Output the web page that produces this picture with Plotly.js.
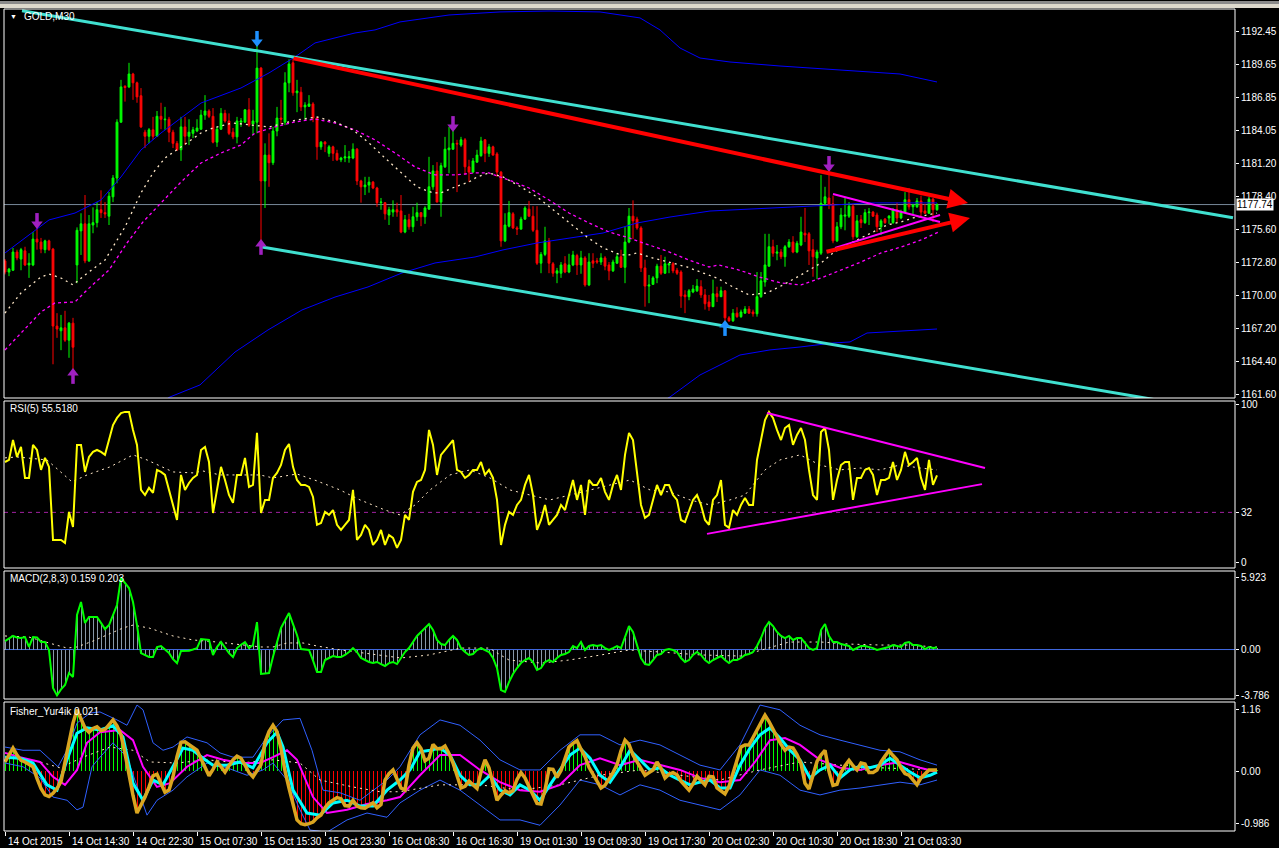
<!DOCTYPE html>
<html><head><meta charset="utf-8">
<script src="https://cdn.plot.ly/plotly-3.0.1.min.js"></script>
<style>html,body{margin:0;padding:0;background:#000;}#chart{width:1279px;height:848px;}</style>
</head><body><div id="chart"></div>
<script>
// ---------- DATA (GOLD M30) ----------
const opens = [1172.94,1172.0,1172.15,1173.7,1173.1,1173.8,1172.6,1172.6,1174.8,1174.55,
1173.9,1174.65,1173.95,1167.4,1167.0,1167.25,1166.2,1167.65,1172.6,1175.5,
1176.1,1172.95,1176.0,1176.2,1177.3,1177.05,1176.75,1178.4,1180.0,1184.75,
1187.8,1187.75,1188.85,1188.1,1187.0,1183.9,1183.55,1184.1,1183.55,1185.25,
1184.95,1185.0,1183.9,1182.95,1182.4,1184.35,1183.55,1183.8,1184.0,1184.15,
1185.35,1185.7,1185.25,1183.05,1184.15,1185.5,1184.85,1183.9,1183.5,1184.75,
1184.75,1185.8,1184.6,1184.75,1189.35,1179.75,1181.95,1181.3,1184.0,1185.1,
1184.75,1188.1,1189.8,1187.25,1187.3,1186.05,1186.1,1186.3,1185.1,1182.65,
1183.05,1182.1,1182.65,1182.1,1181.55,1181.7,1181.7,1181.7,1182.45,1179.75,
1179.25,1179.4,1179.65,1179.15,1177.9,1177.9,1176.85,1177.1,1177.3,1177.2,
1175.4,1176.45,1175.85,1176.7,1177.05,1176.7,1177.35,1179.25,1180.6,1177.95,
1180.95,1182.4,1182.45,1182.95,1182.8,1183.25,1180.95,1180.5,1181.35,1181.9,
1183.25,1182.1,1182.65,1182.05,1180.5,1174.65,1175.9,1176.95,1175.75,1175.65,
1176.5,1177.35,1176.75,1175.55,1172.75,1173.5,1174.65,1172.7,1171.9,1171.9,
1172.7,1172.0,1172.6,1173.4,1172.6,1173.2,1170.9,1172.95,1172.95,1172.85,
1173.2,1172.6,1172.1,1172.75,1173.3,1172.4,1174.55,1176.75,1176.5,1175.75,
1172.35,1170.8,1170.95,1171.5,1172.5,1171.9,1172.6,1172.7,1172.15,1172.0,
1170.05,1169.9,1170.3,1170.4,1170.75,1170.05,1169.45,1169.05,1170.15,1169.9,
1170.4,1168.1,1167.85,1168.5,1168.2,1168.5,1168.85,1168.6,1168.45,1169.9,
1171.15,1172.5,1174.15,1173.6,1173.7,1173.3,1174.15,1174.55,1173.7,1174.3,
1175.3,1175.25,1173.9,1173.2,1173.6,1177.85,1178.3,1177.8,1174.65,1175.85,
1176.75,1176.75,1177.6,1175.0,1176.45,1176.2,1177.05,1177.1,1176.85,1175.85,
1176.5,1176.6,1176.2,1177.3,1176.6,1177.1,1178.15,1177.55,1177.55,1178.05,
1177.2,1177.0,1178.2,1177.3];
const highs = [1173.1,1172.35,1174.05,1173.9,1174.05,1174.15,1173.6,1175.4,1175.9,1174.9,
1174.75,1174.75,1174.05,1168.5,1168.35,1168.7,1167.75,1168.1,1175.8,1177.0,
1178.55,1176.85,1177.5,1177.95,1178.95,1177.95,1178.8,1180.25,1185.0,1188.35,
1187.9,1189.8,1188.95,1188.2,1187.65,1184.1,1184.25,1185.2,1185.7,1186.4,
1186.05,1185.2,1184.1,1183.15,1185.2,1185.2,1185.0,1184.35,1185.0,1185.8,
1187.05,1185.85,1185.95,1184.35,1185.95,1185.8,1185.5,1184.25,1185.2,1185.1,
1185.85,1186.8,1185.8,1191.55,1189.45,1182.95,1183.8,1184.35,1186.05,1186.65,
1189.0,1190.1,1190.3,1188.35,1187.75,1186.45,1187.05,1186.45,1185.2,1183.15,
1183.15,1182.8,1182.75,1182.4,1181.8,1182.8,1182.3,1182.95,1182.55,1179.85,
1180.1,1180.1,1179.75,1179.25,1178.3,1177.95,1177.55,1178.1,1177.9,1178.55,
1176.85,1176.95,1177.55,1177.9,1177.1,1177.6,1181.8,1181.1,1181.35,1181.3,
1183.5,1184.35,1184.1,1183.25,1183.5,1183.4,1181.55,1181.7,1182.4,1183.5,
1183.3,1182.9,1182.75,1182.2,1180.6,1177.0,1178.05,1177.1,1175.9,1176.7,
1177.6,1178.05,1177.6,1177.6,1173.7,1175.85,1174.9,1172.85,1172.35,1172.85,
1173.35,1173.55,1173.8,1173.55,1173.8,1173.35,1173.6,1173.6,1173.2,1173.6,
1173.35,1172.85,1173.05,1173.6,1173.9,1175.85,1177.45,1178.1,1176.7,1175.9,
1173.05,1171.75,1171.65,1172.7,1173.45,1173.3,1172.75,1172.85,1172.35,1172.15,
1170.45,1170.55,1170.9,1171.4,1171.3,1170.55,1170.05,1171.35,1170.75,1170.75,
1170.45,1168.25,1168.85,1169.0,1168.8,1169.1,1169.1,1168.8,1172.0,1172.0,
1175.25,1175.25,1174.75,1174.3,1173.95,1174.3,1174.8,1175.05,1174.65,1176.7,
1177.45,1175.4,1174.8,1173.9,1180.25,1179.25,1180.85,1178.5,1176.25,1177.45,
1178.3,1177.95,1177.8,1176.85,1176.85,1177.35,1177.45,1177.2,1177.05,1176.5,
1176.6,1176.85,1177.45,1177.9,1177.3,1178.8,1179.15,1177.8,1178.3,1178.5,
1177.8,1178.4,1178.3,1177.85];
const lows = [1171.8,1171.65,1172.1,1173.0,1172.15,1172.5,1171.5,1172.5,1173.9,1173.6,
1173.6,1173.8,1164.15,1166.4,1165.35,1166.05,1164.7,1163.4,1171.05,1173.45,
1172.75,1172.85,1175.3,1175.8,1176.6,1176.6,1176.0,1177.95,1179.55,1184.7,
1186.5,1187.65,1186.65,1186.4,1184.25,1182.55,1182.95,1183.25,1183.5,1184.15,
1184.1,1183.05,1182.55,1182.3,1181.45,1182.8,1182.8,1183.4,1183.9,1184.1,
1184.95,1185.1,1182.95,1182.65,1184.1,1184.7,1183.65,1183.3,1182.95,1184.35,
1184.7,1184.35,1183.65,1183.8,1174.45,1177.45,1179.25,1181.1,1183.55,1184.6,
1184.5,1187.3,1187.0,1185.6,1185.7,1184.95,1186.05,1184.75,1181.55,1182.4,
1182.2,1181.8,1181.45,1181.45,1181.35,1181.35,1181.3,1181.6,1179.4,1177.9,
1178.55,1178.75,1179.05,1177.55,1177.3,1176.45,1176.0,1176.7,1176.7,1175.3,
1175.3,1175.6,1175.4,1176.35,1175.9,1176.1,1177.3,1179.0,1177.95,1176.7,
1180.85,1180.4,1182.4,1178.8,1182.65,1180.25,1179.65,1180.4,1181.3,1181.8,
1181.35,1181.8,1181.9,1180.1,1174.15,1174.55,1175.8,1175.65,1175.15,1175.6,
1176.45,1176.7,1175.4,1172.6,1171.9,1173.35,1171.9,1171.6,1171.05,1171.5,
1171.9,1171.9,1172.5,1171.75,1171.85,1170.75,1170.8,1172.35,1172.7,1172.6,
1172.15,1171.3,1172.0,1172.7,1172.35,1171.05,1174.45,1174.8,1175.6,1172.0,
1169.05,1169.35,1170.9,1171.05,1171.75,1171.85,1171.9,1171.9,1171.75,1168.95,
1168.5,1169.6,1170.2,1170.3,1169.8,1168.8,1168.7,1169.05,1169.45,1169.9,
1167.75,1167.75,1167.75,1168.1,1168.1,1168.45,1168.45,1168.2,1168.2,1169.8,
1170.75,1172.45,1173.3,1173.0,1173.1,1172.45,1174.05,1173.6,1173.6,1174.2,
1174.55,1172.6,1171.6,1171.4,1173.45,1177.7,1177.35,1174.45,1174.55,1175.65,
1175.55,1176.6,1174.75,1174.9,1175.75,1176.1,1176.0,1176.7,1175.4,1175.15,
1176.1,1176.1,1176.1,1176.2,1176.5,1177.05,1177.3,1176.85,1177.45,1176.7,
1176.95,1176.95,1176.25,1177.2];
const closes = [1172.0,1172.25,1173.7,1173.2,1173.9,1172.6,1172.75,1174.8,1174.55,1173.95,
1174.65,1173.9,1167.4,1167.15,1167.25,1166.2,1167.65,1165.6,1175.55,1176.1,
1172.95,1176.1,1176.2,1177.3,1177.05,1176.95,1178.45,1180.0,1184.75,1187.75,
1187.7,1188.85,1188.1,1186.9,1184.35,1183.55,1184.1,1183.55,1185.25,1185.0,
1185.0,1183.9,1182.95,1182.4,1184.35,1183.55,1183.9,1184.1,1184.25,1185.35,
1185.7,1185.25,1183.05,1184.15,1185.5,1184.85,1183.8,1183.5,1184.85,1184.85,
1185.8,1184.5,1184.85,1189.35,1179.75,1181.95,1181.3,1184.0,1185.1,1185.0,
1188.1,1189.7,1187.25,1187.4,1186.05,1186.2,1186.3,1185.1,1182.65,1183.05,
1182.9,1182.65,1182.1,1181.55,1181.7,1181.8,1181.8,1182.45,1179.75,1179.25,
1179.4,1179.65,1179.15,1177.9,1177.95,1176.95,1177.3,1177.3,1177.1,1175.4,
1176.45,1175.85,1176.7,1177.05,1176.7,1177.45,1179.25,1180.6,1177.95,1181.05,
1182.45,1182.55,1182.95,1182.9,1183.25,1180.95,1180.5,1181.45,1181.95,1183.15,
1182.1,1182.65,1181.95,1180.5,1174.65,1176.0,1177.05,1175.75,1175.65,1176.5,
1177.45,1176.75,1175.55,1172.75,1173.5,1174.65,1172.75,1171.9,1172.1,1172.6,
1172.0,1172.6,1173.45,1172.6,1173.2,1170.9,1172.85,1172.75,1172.85,1173.2,
1172.5,1172.1,1172.85,1173.3,1172.4,1174.55,1176.75,1176.35,1175.75,1172.35,
1170.8,1170.9,1171.5,1172.5,1171.9,1172.7,1172.7,1172.1,1171.9,1169.95,
1169.9,1170.4,1170.55,1170.8,1170.05,1169.3,1169.05,1170.15,1169.9,1170.4,
1168.1,1167.85,1168.5,1168.2,1168.6,1168.85,1168.5,1168.45,1169.9,1171.25,
1172.6,1174.15,1173.6,1173.7,1173.3,1174.15,1174.55,1173.7,1174.45,1175.4,
1175.15,1173.8,1173.3,1173.7,1177.85,1178.4,1177.7,1174.65,1175.85,1176.85,
1176.85,1177.6,1175.0,1176.35,1176.2,1177.05,1177.1,1176.75,1175.85,1176.35,
1176.2,1176.75,1177.3,1176.6,1177.1,1178.15,1177.55,1177.7,1178.05,1177.1,
1177.0,1178.2,1177.3,1177.74];

// moving averages on price (bar index, price)
const fastMaX = [0,4,9,11,14,17,20,25,30,34,37,40,44,49,52,57,66,73,78,82.5,87,91,95,99,103,107,109,112.5,116,118,121,124.5,129,133,137,141,145.5,149.5,154,156,158,162,166,170.5,174.5,176,178,182,186,190.5,194.5,199,201,204,205.5,207,209.5,213,215.5,218,220.5,224,227,233];
const fastMaY = [1168.51,1170.22,1171.58,1171.83,1171.49,1170.90,1171.75,1173.02,1175.83,1178.73,1180.43,1181.70,1182.64,1183.83,1184.26,1184.68,1184.34,1184.94,1185.19,1184.77,1184.09,1182.98,1181.70,1180.43,1179.24,1178.73,1178.73,1179.24,1179.66,1180.09,1180.43,1180.09,1179.24,1178.39,1177.28,1176.17,1174.98,1174.05,1173.45,1173.45,1173.62,1173.19,1172.85,1172.43,1171.92,1171.75,1171.49,1170.73,1170.05,1170.22,1170.90,1171.75,1172.17,1172.77,1173.19,1173.62,1174.13,1174.73,1175.15,1175.58,1176.00,1176.26,1176.60,1177.02];
const slowMaX = [0,4,9,12.5,17.5,20.5,26,30.5,34.5,39,44,49,54,59,62.5,67.5,72.5,77.5,82.5,87.5,92.5,97.5,102.5,107.5,112.5,117.5,121,126,131,136,141,146,151,156,161,166,171,176,178.5,183.5,188.5,194,199,204,209,214,219,224,229,233.5];
const slowMaY = [1165.37,1166.81,1168.60,1169.37,1169.45,1170.47,1172.17,1174.47,1176.26,1177.88,1179.66,1181.28,1182.13,1182.81,1183.83,1184.34,1184.77,1185.02,1184.68,1184.09,1183.24,1182.13,1180.94,1180.26,1180.26,1180.43,1180.43,1179.83,1179.15,1178.13,1177.02,1176.17,1175.41,1174.90,1174.30,1173.71,1173.02,1172.43,1172.60,1172.17,1171.58,1171.07,1170.90,1171.49,1172.17,1172.85,1173.62,1174.13,1174.73,1175.41];
const bbUpX = [0,11,17.5,24,29,34,39,49,59,66,72.5,77.5,82.5,87.5,92.5,98.75,111,123.75,136,148.75,158.75,163.75,168.75,173.75,181.25,193.75,208.75,223.75,233];
const bbUpY = [1173.62,1176.43,1177.02,1178.13,1180.09,1182.39,1183.83,1186.38,1187.66,1188.94,1190.30,1191.49,1191.92,1192.34,1192.60,1193.28,1193.87,1194.13,1194.21,1194.13,1193.62,1192.60,1191.06,1190.21,1189.87,1189.53,1189.19,1188.85,1188.17];
const bbMidX = [37,41.25,48.75,57.5,65.75,74.25,82.5,90.75,99.25,107.5,117.5,124.5,133,141.25,149.5,158,166.25,176.25,182,190.5,198.75,207,215.5,223.75,233];
const bbMidY = [1160.5,1161.37,1162.39,1165.19,1167.07,1168.77,1169.87,1170.73,1171.92,1172.77,1173.28,1173.88,1174.47,1174.90,1175.32,1176.17,1176.68,1177.19,1177.28,1177.45,1177.53,1177.70,1177.88,1177.88,1177.88];
const bbLowX = [162,166.25,173.75,183.75,191.25,198.75,207,211.25,215.5,219.5,228,233];
const bbLowY = [1160.5,1161.37,1163.24,1164.94,1165.37,1165.62,1165.96,1166.05,1166.81,1166.90,1167.07,1167.15];

// drawn objects (bar index, value)
const chanUpX = [4.25, 307], chanUpY = [1194.24, 1176.62];
const chanLowX = [64.25, 307], chanLowY = [1174.13, 1160.0];
const redUpX = [71.75, 240.75], redUpY = [1190.21, 1177.87];
const redLowX = [205, 241.25], redLowY = [1173.70, 1176.60];
const triUpX = [207, 233.75], triUpY = [1178.64, 1176.26];
const triLowX = [207.5, 233.75], triLowY = [1174.05, 1176.85];
const downArrowX = [8, 63, 112, 206], downArrowY = [1176.26, 1191.75, 1184.51, 1181.11];
const downArrowColor = ['#a020c0', '#1e90ff', '#a020c0', '#a020c0'];
const upArrowX = [17, 64, 180], upArrowY = [1163.24, 1174.22, 1167.32];
const upArrowColor = ['#a020c0', '#a020c0', '#1e90ff'];
const lastPrice = 1177.74;

// price axis ticks
const priceTicks = [1161.60,1164.40,1167.20,1170.00,1172.80,1175.60,1178.40,1181.20,1184.05,1186.85,1189.65,1192.45];

// RSI(5)
const rsi = [63.9,65.2,77.8,67.1,73.4,53.8,53.8,74.7,71.5,58.9,
66.5,60.8,14.6,14.6,14.6,12.7,32.3,22.8,74.7,74.7,
57.6,67.1,70.3,71.5,70.3,68.4,77.8,87.3,91.8,94.9,
95.6,95.6,84.2,74.7,46.2,43.0,47.5,44.3,58.9,57.6,
55.7,46.2,36.7,27.2,55.7,46.2,50.6,53.8,55.7,71.5,
73.4,63.9,31.6,46.2,60.8,52.5,43.0,38.0,55.7,55.7,
66.5,48.1,49.4,82.3,31.6,39.9,39.9,53.8,57.0,62.0,
71.5,75.3,60.8,52.5,49.4,49.4,48.1,41.8,24.1,25.3,
32.3,30.4,33.5,24.1,20.9,24.1,27.2,46.2,14.6,17.7,
24.1,20.9,11.4,14.6,20.9,11.4,17.7,15.8,9.5,14.6,
30.4,27.2,45.0,51.3,52.5,58.9,84.2,74.7,55.7,68.4,
71.5,74.7,77.8,58.9,57.6,53.8,55.7,58.9,58.9,63.9,
55.7,58.9,53.8,39.9,11.4,24.1,32.3,30.4,36.7,39.9,
49.4,55.7,43.0,20.9,27.2,36.7,24.1,27.2,30.4,36.7,
33.5,43.0,52.5,39.9,49.4,30.4,52.5,49.4,49.4,53.8,
45.0,39.9,49.4,55.7,46.2,68.4,82.3,77.8,58.9,36.7,
28.5,30.4,39.9,49.4,43.0,49.4,49.4,43.0,39.9,27.2,
25.9,33.5,39.9,43.0,36.7,27.2,24.1,39.9,43.0,52.5,
24.1,22.2,33.5,30.4,36.7,41.1,36.7,36.7,65.2,77.8,
90.5,95.6,91.8,84.2,77.8,85.4,87.3,74.7,81.0,85.4,
77.8,58.9,43.0,39.9,82.9,85.4,71.5,39.9,52.5,62.0,
63.9,63.9,39.9,53.8,53.8,58.9,60.1,55.7,43.0,52.5,
52.5,53.8,63.9,52.5,58.9,70.3,62.0,63.9,66.5,53.8,
46.2,65.2,49.4,55.5];
const rsiSigX = [0,3,10.5,13.25,16.75,20.5,26.25,32,35.5,42,47,49.5,53.75,63.75,67,73,78,83.75,88.75,95,98.75,102.5,106.25,111.25,116.25,121.25,126.25,131.25,136.25,141.25,146.25,151.25,156.25,161.25,166.25,171.25,176.25,181.25,185,190,193.75,198.75,203.75,208.75,213.75,218.75,223.75,228.75,233];
const rsiSigY = [66.5,67.1,65.2,58.9,51.3,55.7,60.8,68.4,65.2,57.6,57.0,58.2,55.7,55.7,53.8,56.3,51.9,46.2,39.9,33.5,30.4,36.7,46.2,55.7,58.9,53.8,46.2,43.0,39.9,43.0,46.2,49.4,52.5,46.2,44.9,39.9,36.7,39.9,43.0,58.9,65.2,68.4,62.0,58.9,60.1,58.9,62.0,60.1,58.9];
const rsiLevel = 32;
const rsiTriUpX = [190.5, 245], rsiTriUpY = [94.9, 60.1];
const rsiTriLowX = [175.5, 244.25], rsiTriLowY = [18.4, 49.9];

// MACD(2,8,3)
const macd = [0.70,0.9,1.12,1.0,0.95,1.03,0.21,1.03,1.0,0.62,
0.62,-0.04,-3.18,-3.79,-3.3,-2.93,-1.94,-2.27,2.85,3.93,
2.19,2.69,2.69,2.69,2.2,1.69,2.02,2.9,3.68,5.92,
5.5,5.08,3.93,2.02,-0.3,-0.45,-0.62,-0.62,0.21,0.29,
0.0,-0.29,-0.8,-1.12,-0.12,-0.12,-0.1,0.0,0.12,0.87,
0.85,0.79,-0.45,0.2,0.62,0.12,-0.3,-0.62,0.12,0.4,
0.62,0.12,0.37,2.27,-2.02,-1.98,-1.94,-0.6,0.62,1.78,
2.4,3.02,2.1,1.20,0.04,0.0,-0.04,-0.9,-1.86,-1.86,
-0.87,-0.70,-0.54,-0.62,-0.62,-0.45,-0.21,0.12,-0.21,-0.70,
-0.87,-1.03,-1.12,-1.03,-1.20,-1.36,-1.12,-1.03,-1.2,-0.70,
-0.21,0.12,0.62,1.12,1.45,1.78,2.11,1.61,0.79,0.45,
0.37,0.79,1.12,0.79,0.12,-0.21,-0.45,-0.37,-0.04,0.12,
-0.04,-0.21,-0.70,-1.53,-3.35,-3.51,-2.69,-2.02,-1.53,-1.12,
-0.87,-0.70,-1.03,-1.69,-1.53,-1.03,-0.87,-1.03,-0.70,-0.45,
-0.37,-0.21,0.29,0.12,0.62,-0.04,0.29,0.37,0.29,0.37,
0.12,-0.04,0.12,0.29,0.12,0.95,1.94,1.45,0.37,-0.70,
-1.20,-1.28,-0.87,-0.45,-0.37,-0.04,0.04,-0.04,-0.21,-0.70,
-1.03,-0.87,-0.45,-0.21,-0.45,-0.87,-1.12,-0.87,-0.70,-0.54,
-0.87,-1.12,-0.87,-0.87,-0.70,-0.45,-0.37,-0.21,0.29,0.95,
1.78,2.27,1.94,1.45,1.12,0.95,1.12,0.79,0.95,0.95,
0.54,0.12,-0.04,0.12,1.61,2.11,1.12,0.62,0.62,0.45,
0.37,0.29,-0.04,0.12,0.29,0.29,0.21,0.12,-0.04,0.04,
0.12,0.21,0.37,0.29,0.21,0.54,0.62,0.37,0.37,0.29,
0.04,0.21,0.12,0.159];
const macdSigX = [0,6,11,15.5,18,22,26,29.5,32,36,42,47,53,59,64,67,70.5,74.5,78,84,91,99,106,114,121,126,134,141,149,156,164,174,184,189,196,204,211,219,226,233];
const macdSigY = [1.12,1.03,0.54,0.12,0.21,0.70,1.28,1.78,2.02,1.78,1.12,0.79,0.62,0.37,0.21,0.21,0.54,0.54,0.29,-0.04,-0.37,-0.70,-0.45,0.12,0.12,-0.87,-1.12,-0.87,-0.45,-0.04,-0.21,-0.45,-0.54,-0.04,0.62,0.62,0.45,0.37,0.37,0.203];

// Fisher_Yur4ik
const fisher = [0.17,0.30,0.43,0.30,0.20,0.17,0.12,0.08,-0.14,-0.33,
-0.45,-0.48,-0.42,-0.33,-0.20,0.18,0.60,0.90,1.15,0.98,
0.81,0.73,0.80,0.83,0.76,0.78,0.87,0.96,0.85,0.68,
0.33,-0.11,-0.46,-0.79,-0.64,-0.49,-0.30,-0.09,-0.06,-0.23,
-0.40,-0.36,-0.11,0.27,0.54,0.55,0.50,0.45,0.39,0.23,
0.08,-0.09,0.03,0.17,0.08,-0.02,0.10,0.21,0.28,0.24,
0.11,-0.03,-0.11,0.00,0.12,0.54,0.74,0.86,0.74,0.42,
0.00,-0.32,-0.62,-0.92,-0.99,-1.01,-0.99,-0.96,-0.88,-0.83,
-0.69,-0.60,-0.55,-0.50,-0.52,-0.65,-0.66,-0.55,-0.66,-0.69,
-0.70,-0.65,-0.60,-0.69,-0.63,-0.17,-0.05,0.02,-0.16,-0.32,
-0.36,0.11,0.43,0.53,0.42,0.19,0.24,0.50,0.42,0.42,
0.47,0.33,0.15,-0.09,-0.32,-0.29,-0.19,-0.26,-0.33,-0.02,
0.21,0.06,-0.26,-0.55,-0.45,-0.37,-0.41,-0.37,-0.16,-0.03,
-0.13,-0.31,-0.45,-0.61,-0.62,-0.36,0.04,0.03,-0.12,0.01,
0.21,0.45,0.52,0.57,0.41,0.27,0.07,-0.05,-0.19,-0.32,
-0.27,-0.16,-0.03,0.12,0.38,0.58,0.50,0.30,0.17,0.05,
-0.08,-0.03,0.02,0.17,0.05,-0.13,-0.06,-0.03,-0.07,-0.19,
-0.27,-0.36,-0.24,-0.10,-0.18,-0.26,-0.10,-0.11,-0.32,-0.38,
-0.43,-0.29,-0.06,0.21,0.45,0.49,0.49,0.63,0.76,0.92,
1.05,0.93,0.78,0.62,0.50,0.39,0.45,0.43,0.31,0.14,
-0.23,-0.34,-0.07,0.18,0.30,0.39,-0.01,-0.27,-0.25,-0.03,
0.10,0.20,0.10,0.02,0.15,0.13,-0.03,-0.03,0.02,0.17,
0.28,0.38,0.29,0.21,0.06,-0.05,-0.08,-0.18,-0.26,-0.13,
-0.05,0.02,0.02,0.02];
const fCyanX = [0,3.75,7,10.5,13,15.5,18,20.5,23.75,27,29.5,32,34.5,37,39.5,42,44.5,47,49.5,52,55.5,58.75,62,65.5,68,69.5,72,75.5,78.75,82,85.5,88.75,92,95.5,98.75,101.25,103.75,106.25,108.75,111.25,113.75,116.25,118.75,121.25,123.75,126.25,128.75,131.25,133.75,136.25,138.75,141.25,143.75,146.25,148.75,151.25,153.75,156.25,158.75,161.25,163.75,166.25,168.75,171.25,173.75,176.25,178.75,181.25,183.75,186.25,188.75,191.25,193.75,196.25,198.75,201.25,203.75,206.25,208.75,211.25,213.75,216.25,218.75,221.25,223.75,226.25,228.75,231.25,233];
const fCyanY = [0.26,0.24,0.15,-0.26,-0.36,0.21,0.71,0.81,0.77,0.85,0.64,-0.23,-0.55,-0.17,-0.26,0.08,0.43,0.39,0.24,0.11,0.11,0.17,0.06,0.53,0.73,0.45,-0.36,-0.79,-0.83,-0.60,-0.55,-0.66,-0.66,-0.36,-0.17,0.02,0.36,0.39,0.43,0.30,-0.08,-0.26,-0.26,-0.08,-0.36,-0.45,-0.26,-0.36,-0.55,-0.26,0.02,0.30,0.43,0.24,-0.08,-0.21,0.06,0.39,0.21,0.02,0.06,-0.08,-0.17,-0.26,-0.21,-0.17,-0.32,-0.32,0.11,0.43,0.68,0.81,0.62,0.39,0.21,-0.13,0.02,0.11,-0.13,0.02,0.09,0.06,0.11,0.24,0.11,-0.02,-0.13,-0.08,-0.02];
const fMagX = [0,3.75,8.75,12,15,18,20.5,23.75,28.75,32,34.5,38,41.25,45.5,50.5,54.5,58.75,63.75,67,70.5,73,77,80.5,85.5,90.5,95.5,98.75,103.75,108.75,113.75,118.75,123.75,128.75,133.75,138.75,143.75,148.75,153.75,158.75,163.75,168.75,173.75,178.75,183.75,187.5,191.25,195,198.75,203.75,208.75,213.75,218.75,223.75,228.75,233];
const fMagY = [0.34,0.26,0.17,-0.11,-0.26,0.02,0.53,0.73,0.77,0.58,0.08,-0.30,-0.23,0.08,0.30,0.21,0.15,0.15,0.26,0.39,0.21,-0.49,-0.79,-0.73,-0.62,-0.55,-0.49,-0.08,0.30,0.30,0.02,-0.21,-0.36,-0.39,-0.26,0.11,0.24,0.11,0.21,0.11,0.02,-0.13,-0.21,-0.17,0.17,0.58,0.62,0.49,0.21,0.06,0.02,0.11,0.17,0.06,-0.02];
const fBandUpX = [0,4.5,8.75,13.25,15.5,18,21.25,23.75,28,30.5,33,34.5,37,39.5,42,45.5,50.5,53.75,57,62,65.5,69.5,73.75,76.75,79.5,83.75,88.75,92,95.5,98.75,103.75,108.75,113.75,118.75,123.75,128.75,133.75,138.75,143.75,148.75,153.75,158.75,163.75,168.75,173.75,178.75,183.75,188.75,193.75,198.75,203.75,208.75,213.75,218.75,223.75,228.75,233];
const fBandUpY = [0.45,0.39,0.39,0.08,0.39,0.90,1.09,1.11,0.96,0.86,1.24,1.15,0.53,0.39,0.45,0.64,0.53,0.34,0.26,0.26,0.64,0.96,0.99,0.39,-0.36,-0.41,-0.55,-0.36,-0.17,0.08,0.68,0.96,0.86,0.58,0.21,0.02,0.02,0.39,0.68,0.68,0.49,0.58,0.49,0.30,0.11,0.02,0.49,1.24,1.15,0.86,0.68,0.58,0.49,0.39,0.36,0.21,0.11];
const fBandLowX = [0,4.5,8.75,12,15.5,18,19.5,21.75,23.75,27,30.5,33,35.5,38,42,45.5,50.5,55.5,60.5,64.5,67,70.5,73.75,76.25,80.5,85.5,90.5,95.5,98.75,103.75,108.75,113.75,118.75,123.75,128.75,133.75,138.75,143.75,148.75,153.75,158.75,163.75,168.75,173.75,178.75,183.75,188.75,193.75,198.75,203.75,208.75,213.75,218.75,223.75,228.75,233];
const fBandLowY = [0.15,0.08,-0.13,-0.49,-0.55,-0.73,-0.68,0.08,0.26,0.53,0.26,-0.30,-0.83,-0.55,-0.36,-0.11,0.15,0.06,-0.08,0.02,0.15,-0.17,-0.73,-1.11,-1.15,-0.92,-0.79,-0.87,-0.60,-0.36,-0.17,-0.36,-0.64,-0.92,-0.92,-1.02,-0.64,-0.17,-0.26,-0.45,-0.26,-0.36,-0.55,-0.64,-0.73,-0.45,0.02,-0.08,-0.36,-0.45,-0.36,-0.32,-0.26,-0.21,-0.26,-0.17];
const fSigX = [0,7,13.75,19.5,26.25,32,36.25,43,50.5,58.75,67,73.75,78.75,87,93.75,98.75,108.75,118.75,128.75,138.75,148.75,158.75,168.75,178.75,188.75,198.75,208.75,218.75,233];
const fSigY = [0.26,0.21,0.06,0.26,0.45,0.39,0.17,0.15,0.21,0.15,0.21,0.15,-0.17,-0.30,-0.39,-0.39,-0.26,-0.26,-0.36,-0.26,-0.08,0.02,-0.08,-0.17,0.02,0.17,0.11,0.06,0.02];

// time axis labels (every 16 bars)
const timeLabels = ['14 Oct 2015','14 Oct 14:30','14 Oct 22:30','15 Oct 07:30','15 Oct 15:30','15 Oct 23:30','16 Oct 08:30','16 Oct 16:30','19 Oct 01:30','19 Oct 09:30','19 Oct 17:30','20 Oct 02:30','20 Oct 10:30','20 Oct 18:30','21 Oct 03:30'];
const timeLabelBars = [0,16,32,48,64,80,96,112,128,144,160,176,192,208,224];

// ---------- LAYOUT ----------
const FONT = "'Liberation Sans', Arial, sans-serif";
const FS = 10;
const W = 1279, H = 848, ML = 4, MR = 44, MT = 9, MB = 17;
const PH = H - MT - MB;
const dom = (top, bot) => [(H - MB - bot) / PH, (H - MB - top) / PH];
const dMain = dom(9, 398), dRsi = dom(401, 568), dMacd = dom(571, 699), dFis = dom(702, 831);
const py = (y) => (H - MB - y) / PH;
const barIdx = closes.map((_, i) => i);
const priceRange = [1161.28, 1194.38];
const pricePerPx = (priceRange[1] - priceRange[0]) / (398 - 9);

function line(x, y, ya, color, width, dash) {
  return {type: 'scatter', mode: 'lines', x: x, y: y, xaxis: 'x', yaxis: ya,
    line: {color: color, width: width, dash: dash || 'solid'}, hoverinfo: 'skip'};
}

const traces = [];
// Main panel
traces.push(line(bbUpX, bbUpY, 'y', '#0000ff', 1));
traces.push(line(bbMidX, bbMidY, 'y', '#0000ff', 1));
traces.push(line(bbLowX, bbLowY, 'y', '#0000ff', 1));
traces.push(line(slowMaX, slowMaY, 'y', '#ff00ff', 1.3, '3px,3px'));
traces.push(line(fastMaX, fastMaY, 'y', '#ffe8c8', 1.3, '2px,4px'));
traces.push(line(chanUpX, chanUpY, 'y', '#40e0d0', 3));
traces.push(line(chanLowX, chanLowY, 'y', '#40e0d0', 3));
traces.push({type: 'candlestick', x: barIdx, open: opens, high: highs, low: lows, close: closes,
  xaxis: 'x', yaxis: 'y', whiskerwidth: 0, hoverinfo: 'skip',
  increasing: {line: {color: '#00ff00', width: 1}, fillcolor: '#00ff00'},
  decreasing: {line: {color: '#ff0000', width: 1}, fillcolor: '#ff1010'}});
traces.push(line(triUpX, triUpY, 'y', '#ff00ff', 2));
traces.push(line(triLowX, triLowY, 'y', '#ff00ff', 2));
// signal arrows: head + shaft
traces.push({type: 'scatter', mode: 'markers', x: downArrowX, y: downArrowY.map(v => v - 2 * pricePerPx), xaxis: 'x', yaxis: 'y',
  marker: {symbol: 'triangle-down', size: 10, color: downArrowColor, line: {width: 0}}, hoverinfo: 'skip'});
traces.push({type: 'scatter', mode: 'markers', x: downArrowX, y: downArrowY.map(v => v + 4 * pricePerPx), xaxis: 'x', yaxis: 'y',
  marker: {symbol: 'line-ns', size: 7, line: {width: 3.5, color: downArrowColor}}, hoverinfo: 'skip'});
traces.push({type: 'scatter', mode: 'markers', x: upArrowX, y: upArrowY.map(v => v + 2 * pricePerPx), xaxis: 'x', yaxis: 'y',
  marker: {symbol: 'triangle-up', size: 10, color: upArrowColor, line: {width: 0}}, hoverinfo: 'skip'});
traces.push({type: 'scatter', mode: 'markers', x: upArrowX, y: upArrowY.map(v => v - 4 * pricePerPx), xaxis: 'x', yaxis: 'y',
  marker: {symbol: 'line-ns', size: 7, line: {width: 3.5, color: upArrowColor}}, hoverinfo: 'skip'});

// RSI panel
traces.push(line(rsiSigX, rsiSigY, 'y2', '#ffe8c8', 1, '2px,4px'));
traces.push(line(barIdx, rsi, 'y2', '#ffff00', 2));
traces.push(line(rsiTriUpX, rsiTriUpY, 'y2', '#ff00ff', 2));
traces.push(line(rsiTriLowX, rsiTriLowY, 'y2', '#ff00ff', 2));

// MACD panel
traces.push({type: 'bar', x: barIdx, y: macd, xaxis: 'x', yaxis: 'y3', width: 0.25,
  marker: {color: '#8898a8', line: {width: 0}}, hoverinfo: 'skip'});
traces.push(line(macdSigX, macdSigY, 'y3', '#ffe8c8', 1, '2px,4px'));
traces.push(line(barIdx, macd, 'y3', '#00ff00', 2));

// Fisher panel
traces.push({type: 'bar', x: barIdx, y: fisher, xaxis: 'x', yaxis: 'y4', width: 0.25,
  marker: {color: fisher.map(v => v >= 0 ? '#00ff00' : '#ff0000'), line: {width: 0}}, hoverinfo: 'skip'});
traces.push(line(fBandUpX, fBandUpY, 'y4', '#3060ff', 1));
traces.push(line(fBandLowX, fBandLowY, 'y4', '#3060ff', 1));
traces.push(line(fSigX, fSigY, 'y4', '#ffe8c8', 1, '2px,4px'));
traces.push(line(fMagX, fMagY, 'y4', '#ff00ff', 2));
traces.push(line(fCyanX, fCyanY, 'y4', '#00ffff', 3));
traces.push(line(barIdx, fisher, 'y4', '#daa520', 3.5));

const tickFont = {color: '#ffffff', size: FS, family: FONT};
function yax(domain, range, vals, text) {
  return {domain: domain, range: range, side: 'right', anchor: 'x', tickvals: vals, ticktext: text,
    ticks: 'outside', ticklen: 3, tickcolor: '#ffffff', tickwidth: 1, tickfont: tickFont,
    showgrid: false, zeroline: false, showline: false, fixedrange: true};
}

const shapes = [
  {type: 'rect', xref: 'paper', yref: 'paper', x0: -0.01, x1: 1.05, y0: 1 + 1 / PH, y1: 1 + 5 / PH, fillcolor: '#dcd8cc', line: {width: 0}, layer: 'above'},
  {type: 'rect', xref: 'paper', yref: 'paper', x0: -0.01, x1: 1.05, y0: 1 + 5 / PH, y1: 1 + 8 / PH, fillcolor: '#8a8a8a', line: {width: 0}, layer: 'above'},
  {type: 'line', xref: 'paper', yref: 'y', x0: 0, x1: 1, y0: lastPrice, y1: lastPrice, line: {color: '#778899', width: 1}, layer: 'below'},
  {type: 'line', xref: 'paper', yref: 'y2', x0: 0, x1: 1, y0: rsiLevel, y1: rsiLevel, line: {color: '#a020a0', width: 1, dash: '4px,4px'}, layer: 'below'},
  {type: 'line', xref: 'paper', yref: 'y3', x0: 0, x1: 1, y0: 0, y1: 0, line: {color: '#4169e1', width: 1}, layer: 'below'}
];
[dMain, dRsi, dMacd, dFis].forEach(d => shapes.push({type: 'rect', xref: 'paper', yref: 'paper',
  x0: 0, x1: 1, y0: d[0], y1: d[1], line: {color: '#ffffff', width: 1}, fillcolor: 'rgba(0,0,0,0)', layer: 'above'}));

const annotations = [];
const textFont = {color: '#ffffff', size: FS, family: FONT};
annotations.push({xref: 'paper', yref: 'paper', x: 0.003, y: py(17), text: '▼', showarrow: false, xanchor: 'left', yanchor: 'middle', font: {color: '#ffffff', size: 7}});
annotations.push({xref: 'paper', yref: 'paper', x: 0.0146, y: py(17), text: 'GOLD,M30', showarrow: false, xanchor: 'left', yanchor: 'middle', font: textFont});
annotations.push({xref: 'paper', yref: 'paper', x: 0.0033, y: py(408), text: 'RSI(5) 55.5180', showarrow: false, xanchor: 'left', yanchor: 'middle', font: textFont});
annotations.push({xref: 'paper', yref: 'paper', x: 0.0033, y: py(579), text: 'MACD(2,8,3) 0.159 0.203', showarrow: false, xanchor: 'left', yanchor: 'middle', font: textFont});
annotations.push({xref: 'paper', yref: 'paper', x: 0.0033, y: py(711), text: 'Fisher_Yur4ik 0.021', showarrow: false, xanchor: 'left', yanchor: 'middle', font: textFont});
annotations.push({xref: 'paper', yref: 'y', x: 1, xshift: 1, y: lastPrice, text: lastPrice.toFixed(2), showarrow: false,
  xanchor: 'left', yanchor: 'middle', bgcolor: '#ffffff', borderpad: 0, font: {color: '#000000', size: FS, family: FONT}});
timeLabels.forEach((t, k) => annotations.push({xref: 'x', yref: 'paper', x: timeLabelBars[k], xshift: 1, y: py(841),
  text: t, showarrow: false, xanchor: 'left', yanchor: 'middle', font: textFont}));
annotations.push({xref: 'x', yref: 'y', axref: 'x', ayref: 'y', x: redUpX[1], y: redUpY[1], ax: redUpX[0], ay: redUpY[0],
  text: '', showarrow: true, arrowhead: 2, arrowsize: 1, arrowwidth: 4, arrowcolor: '#ff0000'});
annotations.push({xref: 'x', yref: 'y', axref: 'x', ayref: 'y', x: redLowX[1], y: redLowY[1], ax: redLowX[0], ay: redLowY[0],
  text: '', showarrow: true, arrowhead: 2, arrowsize: 1, arrowwidth: 4, arrowcolor: '#ff0000'});

const layout = {
  width: W, height: H, margin: {l: ML, r: MR, t: MT, b: MB, pad: 0},
  paper_bgcolor: '#000000', plot_bgcolor: '#000000', showlegend: false, hovermode: false,
  bargap: 0, barmode: 'overlay', boxgap: 0.35,
  xaxis: {domain: [0, 1], range: [-0.25, 307.5], anchor: 'y4', showgrid: false, zeroline: false, showline: false,
    tickvals: timeLabelBars, ticks: 'outside', ticklen: 4, tickcolor: '#ffffff', showticklabels: false,
    rangeslider: {visible: false}, fixedrange: true},
  yaxis: yax(dMain, priceRange, priceTicks, priceTicks.map(v => v.toFixed(2))),
  yaxis2: yax(dRsi, [-3.2, 102.5], [0, 32, 100], ['0', '32', '100']),
  yaxis3: yax(dMacd, [-4.09, 6.49], [-3.786, 0, 5.923], ['-3.786', '0.00', '5.923']),
  yaxis4: yax(dFis, [-1.128, 1.297], [-0.986, 0, 1.16], ['-0.986', '0.00', '1.16']),
  shapes: shapes, annotations: annotations
};

Plotly.newPlot('chart', traces, layout, {staticPlot: true, displayModeBar: false});
</script></body></html>
